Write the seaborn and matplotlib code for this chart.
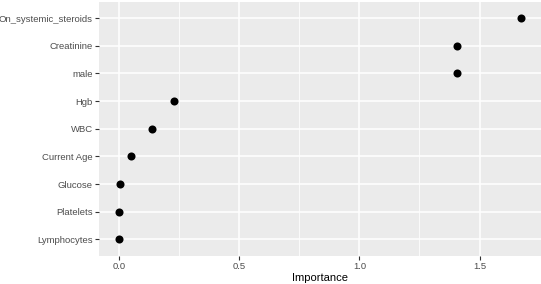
import matplotlib
matplotlib.use("Agg")
import matplotlib.pyplot as plt
import seaborn as sns
import pandas as pd
from matplotlib.ticker import FixedLocator

features = ["On_systemic_steroids", "Creatinine", "male", "Hgb", "WBC",
            "Current Age", "Glucose", "Platelets", "Lymphocytes"]
importance = [1.672, 1.408, 1.408, 0.228, 0.136, 0.048, 0.002, 0.001, 0.0]
xticks = [0.0, 0.5, 1.0, 1.5]
xticklabels = ["0.0", "0.5", "1.0", "1.5"]

df = pd.DataFrame({"feature": features, "Importance": importance})

sns.set_theme(style="darkgrid")
plt.rcParams["font.family"] = ["Liberation Sans", "DejaVu Sans"]

fig = plt.figure(figsize=(5.41, 2.84), dpi=100)
ax = fig.add_axes([99 / 541, 1 - 256 / 284, 1 - 99 / 541, (256 - 1.5) / 284])
ax.set_facecolor("#EBEBEB")

sns.stripplot(data=df, x="Importance", y="feature", order=features,
              jitter=False, color="black", size=5.8, linewidth=0, ax=ax, zorder=3)

lo, hi = min(importance), max(importance)
pad = (hi - lo) * 0.05
ax.set_xlim(lo - pad, hi + pad)
n = len(features)
ax.set_ylim(n - 1 + 0.6, -0.6)

ax.xaxis.set_major_locator(FixedLocator(xticks))
ax.set_xticklabels(xticklabels)
ax.xaxis.set_minor_locator(FixedLocator([0.25, 0.75, 1.25]))
ax.grid(which="major", color="white", linewidth=1.1)
ax.grid(which="minor", axis="x", color="white", linewidth=0.55)
ax.set_axisbelow(True)
for s in ax.spines.values():
    s.set_visible(False)

ax.tick_params(axis="both", which="major", length=3, width=0.8, color="#333333",
               labelsize=6.8, labelcolor="#4D4D4D", pad=1.5, direction="out")
ax.tick_params(axis="both", which="minor", length=0)
ax.tick_params(axis="x", bottom=True)
ax.tick_params(axis="y", left=True)
ax.set_ylabel("")
ax.set_xlabel("Importance", fontsize=8, color="black", labelpad=1)

fig.savefig("out.png", dpi=100)
